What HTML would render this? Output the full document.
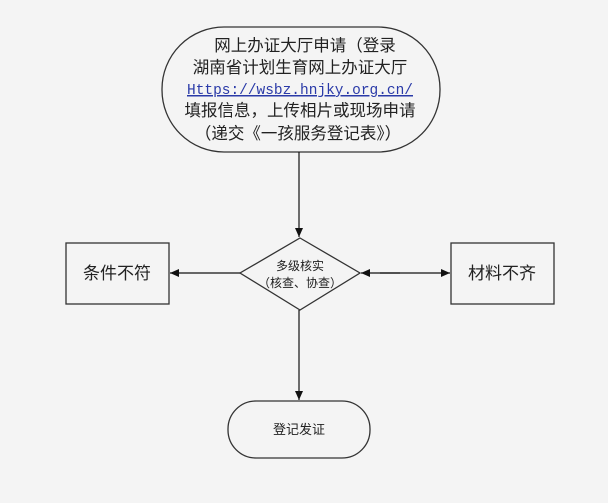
<!DOCTYPE html>
<html><head><meta charset="utf-8"><style>
html,body{margin:0;padding:0;background:#f4f4f4;}
svg{display:block}
text{font-family:"Liberation Sans","Noto Sans CJK SC",sans-serif;fill:#222}
text.mono{font-family:"Liberation Mono",monospace;fill:#2a3aa8}
</style></head><body>
<svg width="608" height="503" viewBox="0 0 608 503" xmlns="http://www.w3.org/2000/svg">
<defs><marker id="a" markerWidth="10" markerHeight="10" refX="9" refY="5" orient="auto" markerUnits="userSpaceOnUse"><path d="M0,1 L9,5 L0,9 z" fill="#111"/></marker></defs>
<rect x="162" y="27" width="278" height="125" rx="62" ry="62" fill="none" stroke="#333" stroke-width="1.3"/>
<g font-size="16.5" text-anchor="middle">
<text x="305" y="51">网上办证大厅申请（登录</text>
<text x="300" y="73">湖南省计划生育网上办证大厅</text>
<text class="mono" x="300" y="94" font-size="15" text-decoration="underline" textLength="226" lengthAdjust="spacingAndGlyphs">Https://wsbz.hnjky.org.cn/</text>
<text x="300" y="116">填报信息，上传相片或现场申请</text>
<text x="298" y="139">（递交《一孩服务登记表》）</text>
</g>
<line x1="299" y1="152" x2="299" y2="237" stroke="#111" stroke-width="1.2" marker-end="url(#a)"/>
<polygon points="300,238 360,273 300,310 240,273" fill="none" stroke="#333" stroke-width="1.3"/>
<text x="300" y="270" font-size="12" text-anchor="middle">多级核实</text>
<text x="300" y="287" font-size="12" text-anchor="middle">（核查、协查）</text>
<rect x="66" y="243" width="103" height="61" fill="none" stroke="#333" stroke-width="1.3"/>
<text x="117" y="279" font-size="17" text-anchor="middle">条件不符</text>
<rect x="451" y="243" width="103" height="61" fill="none" stroke="#333" stroke-width="1.3"/>
<text x="502" y="279" font-size="17" text-anchor="middle">材料不齐</text>
<line x1="240" y1="273" x2="170" y2="273" stroke="#111" stroke-width="1.2" marker-end="url(#a)"/>
<line x1="400" y1="273" x2="361" y2="273" stroke="#111" stroke-width="1.2" marker-end="url(#a)"/>
<line x1="380" y1="273" x2="450" y2="273" stroke="#111" stroke-width="1.2" marker-end="url(#a)"/>
<line x1="299" y1="310" x2="299" y2="400" stroke="#111" stroke-width="1.2" marker-end="url(#a)"/>
<rect x="228" y="401" width="142" height="57" rx="28" ry="28" fill="none" stroke="#333" stroke-width="1.3"/>
<text x="299" y="434" font-size="13" text-anchor="middle">登记发证</text>
</svg>
</body></html>
